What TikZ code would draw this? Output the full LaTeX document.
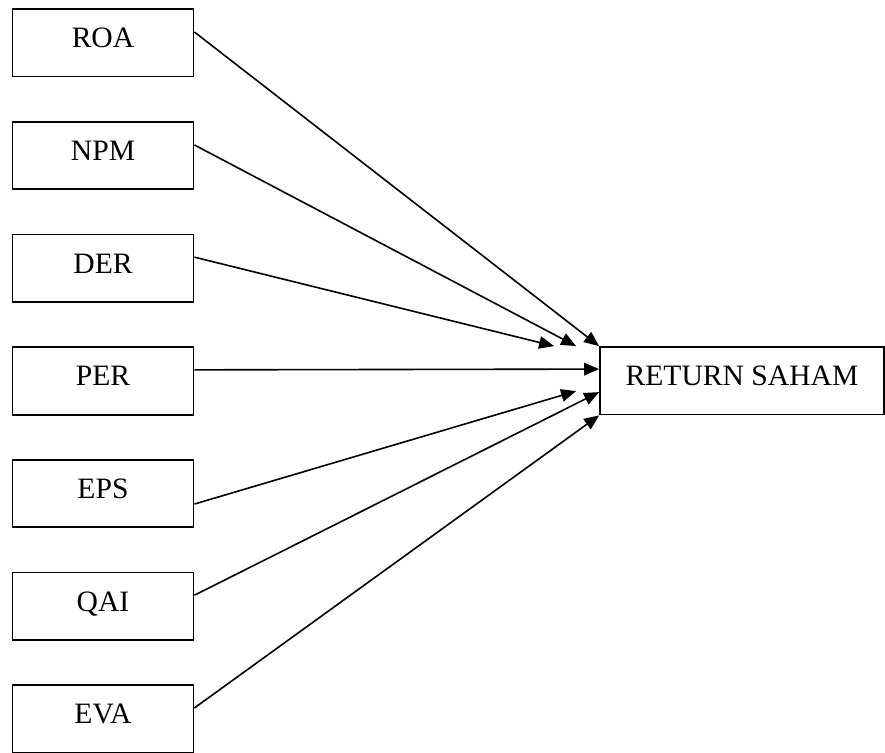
\documentclass[tikz,border=0pt]{standalone}
\usepackage{fontspec}
\setmainfont{Liberation Serif}
\usetikzlibrary{arrows.meta}
\begin{document}
\begin{tikzpicture}[x=1pt,y=-1pt,
  varbox/.style={draw, line width=1.8pt, inner sep=0pt,
    minimum height=67.5pt, text height=20pt, text depth=10pt,
    font=\fontsize{29.6}{34}\selectfont},
  inbox/.style={varbox, minimum width=181pt},
  link/.style={line width=1.6pt, -{Triangle[length=15pt,width=12.5pt]}}]
\useasboundingbox (0,0) rectangle (885,752);
% independent variables
\node[inbox] (roa) at (103,42.75)  {ROA};
\node[inbox] (npm) at (103,155.45) {NPM};
\node[inbox] (der) at (103,268.15) {DER};
\node[inbox] (per) at (103,380.85) {PER};
\node[inbox] (eps) at (103,493.55) {EPS};
\node[inbox] (qai) at (103,606.25) {QAI};
\node[inbox] (eva) at (103,718.95) {EVA};
% dependent variable
\node[varbox, minimum width=284pt] (ret) at (742,380.75) {RETURN SAHAM};
% effects on stock return
\draw[link] ([yshift=10.75pt]roa.east) -- (ret.north west);
\draw[link] ([yshift=10.5pt]npm.east) -- ([xshift=-23pt]ret.north west);
\draw[link] ([yshift=11pt]der.east) -- ([xshift=-45pt]ret.north west);
\draw[link] ([yshift=11pt]per.east) -- ([yshift=-23pt]ret.north west);
\draw[link] ([yshift=-10.5pt]eps.east) -- ([xshift=-23pt,yshift=-45pt]ret.north west);
\draw[link] ([yshift=11pt]qai.east) -- ([yshift=-46pt]ret.north west);
\draw[link] ([yshift=11pt]eva.east) -- (ret.south west);
\end{tikzpicture}
\end{document}
